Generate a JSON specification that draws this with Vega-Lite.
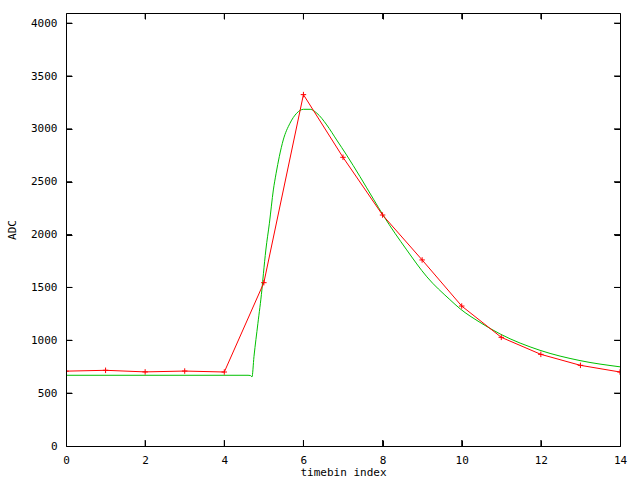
{
  "$schema": "https://vega.github.io/schema/vega-lite/v6.json",
  "autosize": {"type": "none"},
  "padding": {"left": 66, "top": 13, "right": 20, "bottom": 34},
  "width": 554,
  "height": 433,
  "background": "white",
  "config": {
    "view": {"stroke": null, "fill": null},
    "font": "DejaVu Sans Mono",
    "axis": {
      "domain": true,
      "domainColor": "black",
      "domainWidth": 1,
      "domainOpacity": 1,
      "grid": false,
      "ticks": true,
      "tickColor": "black",
      "tickWidth": 1,
      "tickOpacity": 1,
      "tickSize": -6,
      "labelFont": "DejaVu Sans Mono",
      "labelFontSize": 11,
      "labelColor": "black",
      "titleFont": "DejaVu Sans Mono",
      "titleFontSize": 11,
      "titleFontWeight": "normal",
      "titleColor": "black"
    }
  },
  "datasets": {
    "meas": [
      {"t": 0, "adc": 708}, {"t": 1, "adc": 716}, {"t": 2, "adc": 701}, {"t": 3, "adc": 709},
      {"t": 4, "adc": 700}, {"t": 5, "adc": 1545}, {"t": 6, "adc": 3324}, {"t": 7, "adc": 2731},
      {"t": 8, "adc": 2185}, {"t": 9, "adc": 1760}, {"t": 10, "adc": 1324}, {"t": 11, "adc": 1028},
      {"t": 12, "adc": 867}, {"t": 13, "adc": 763}, {"t": 14, "adc": 700}
    ],
    "fit": [
      {"t": 0, "adc": 669}, {"t": 4.6, "adc": 669}, {"t": 4.66, "adc": 667}, {"t": 4.70, "adc": 653},
      {"t": 4.75, "adc": 845}, {"t": 4.85, "adc": 1161}, {"t": 4.95, "adc": 1476}, {"t": 4.99, "adc": 1634},
      {"t": 5.05, "adc": 1854}, {"t": 5.14, "adc": 2107}, {"t": 5.24, "adc": 2422}, {"t": 5.31, "adc": 2580},
      {"t": 5.39, "adc": 2737}, {"t": 5.49, "adc": 2895}, {"t": 5.66, "adc": 3053}, {"t": 5.83, "adc": 3148},
      {"t": 6.0, "adc": 3185}, {"t": 6.17, "adc": 3185}, {"t": 6.34, "adc": 3148}, {"t": 6.59, "adc": 3037},
      {"t": 6.84, "adc": 2895}, {"t": 7.09, "adc": 2753}, {"t": 7.43, "adc": 2548}, {"t": 7.77, "adc": 2335},
      {"t": 8.02, "adc": 2180}, {"t": 8.61, "adc": 1855}, {"t": 9.12, "adc": 1600}, {"t": 9.70, "adc": 1385},
      {"t": 9.96, "adc": 1298}, {"t": 10.46, "adc": 1170}, {"t": 10.97, "adc": 1060}, {"t": 11.98, "adc": 905},
      {"t": 12.99, "adc": 808}, {"t": 14, "adc": 749}
    ],
    "xticks": [{"v": 2}, {"v": 4}, {"v": 6}, {"v": 8}, {"v": 10}, {"v": 12}],
    "yticks": [{"v": 500}, {"v": 1000}, {"v": 1500}, {"v": 2000}, {"v": 2500}, {"v": 3000}, {"v": 3500}, {"v": 4000}]
  },
  "layer": [
    {
      "data": {"name": "fit"},
      "mark": {"type": "line", "color": "#00c000", "strokeWidth": 1, "interpolate": "monotone", "clip": true},
      "encoding": {
        "x": {"field": "t", "type": "quantitative", "scale": {"domain": [0, 14], "nice": false, "zero": false},
              "axis": {"title": "timebin index", "tickCount": 7, "format": "d", "zindex": 1, "labelPadding": 14, "titlePadding": 1, "labelFlush": false}},
        "y": {"field": "adc", "type": "quantitative", "scale": {"domain": [0, 4096], "nice": false},
              "axis": {"title": "ADC", "tickCount": 8, "format": "d", "zindex": 1, "labelPadding": 15, "titlePadding": 13, "labelFlush": false}}
      }
    },
    {
      "data": {"name": "meas"},
      "mark": {"type": "line", "color": "#ff0000", "strokeWidth": 1, "clip": true},
      "encoding": {
        "x": {"field": "t", "type": "quantitative", "axis": null},
        "y": {"field": "adc", "type": "quantitative", "axis": null}
      }
    },
    {
      "data": {"name": "meas"},
      "mark": {"type": "point", "shape": "M-1,0L1,0M0,-1L0,1", "size": 30, "filled": false, "stroke": "#ff0000", "strokeWidth": 1, "opacity": 1, "clip": true},
      "encoding": {
        "x": {"field": "t", "type": "quantitative", "axis": null},
        "y": {"field": "adc", "type": "quantitative", "axis": null}
      }
    },
    {
      "data": {"name": "yticks"},
      "mark": {"type": "tick", "orient": "horizontal", "size": 12, "thickness": 1, "color": "black", "opacity": 1, "clip": true},
      "encoding": {
        "y": {"field": "v", "type": "quantitative", "axis": null},
        "x": {"datum": 0, "type": "quantitative", "axis": null}
      }
    },
    {
      "data": {"name": "yticks"},
      "mark": {"type": "tick", "orient": "horizontal", "size": 12, "thickness": 1, "color": "black", "opacity": 1, "clip": true},
      "encoding": {
        "y": {"field": "v", "type": "quantitative", "axis": null},
        "x": {"datum": 14, "type": "quantitative", "axis": null}
      }
    },
    {
      "data": {"name": "xticks"},
      "mark": {"type": "tick", "orient": "vertical", "size": 12, "thickness": 1, "color": "black", "opacity": 1, "clip": true},
      "encoding": {
        "x": {"field": "v", "type": "quantitative", "axis": null},
        "y": {"datum": 0, "type": "quantitative", "axis": null}
      }
    },
    {
      "data": {"name": "xticks"},
      "mark": {"type": "tick", "orient": "vertical", "size": 12, "thickness": 1, "color": "black", "opacity": 1, "clip": true},
      "encoding": {
        "x": {"field": "v", "type": "quantitative", "axis": null},
        "y": {"datum": 4096, "type": "quantitative", "axis": null}
      }
    },
    {
      "data": {"name": "meas"},
      "mark": {"type": "point", "opacity": 0},
      "encoding": {
        "x": {"field": "t", "type": "quantitative",
              "axis": {"orient": "top", "title": null, "labels": false, "zindex": 1, "tickCount": 7}},
        "y": {"field": "adc", "type": "quantitative",
              "axis": {"orient": "right", "title": null, "labels": false, "zindex": 1, "tickCount": 8}}
      }
    }
  ],
  "resolve": {"axis": {"x": "independent", "y": "independent"}}
}
